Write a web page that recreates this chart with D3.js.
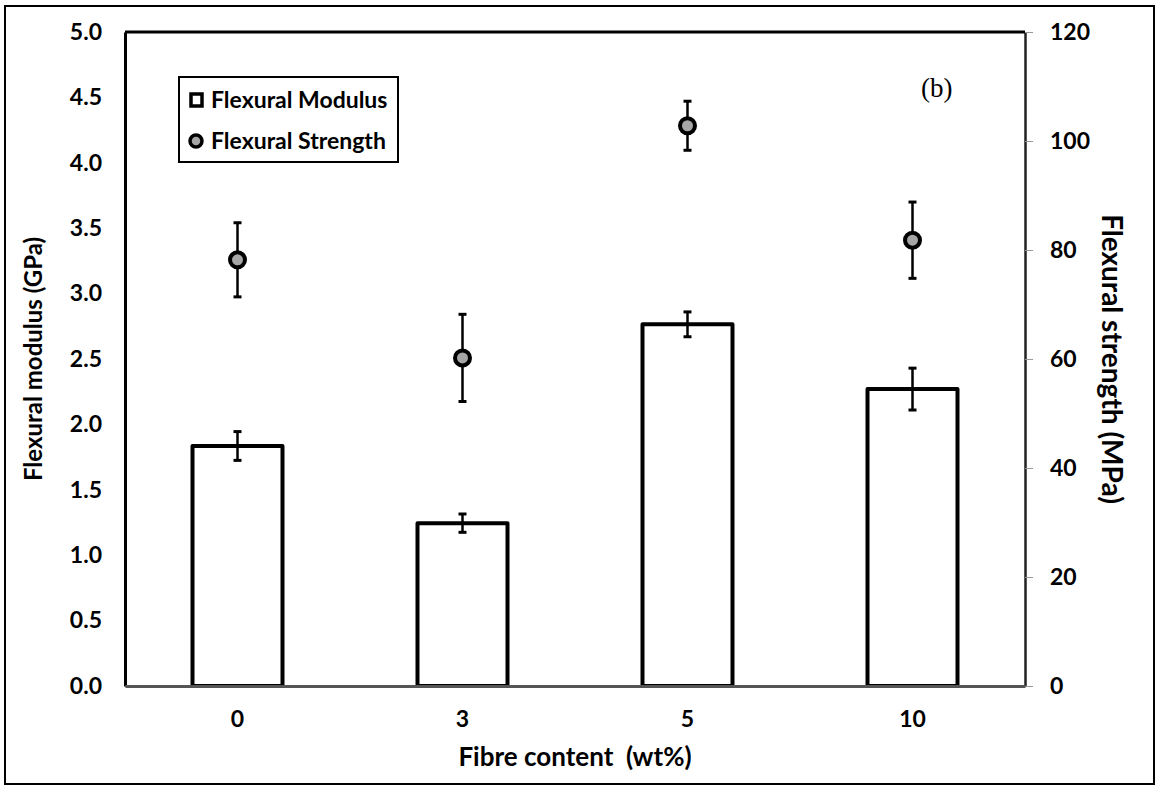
<!DOCTYPE html>
<html>
<head>
<meta charset="utf-8">
<script src="https://cdn.jsdelivr.net/npm/d3@7/dist/d3.min.js"></script>
<style>
  body { margin: 0; background: #fff; }
  text { font-family: Lato, "Open Sans", sans-serif; font-weight: bold; }
</style>
</head>
<body>
<svg id="chart" width="1157" height="787"></svg>
<script>
// fibre content categories
var categories = ["0", "3", "5", "10"];
// flexural modulus (GPa) and its error
var modulus = [1.835, 1.245, 2.765, 2.27];
var modulusErr = [0.11, 0.07, 0.095, 0.16];
// flexural strength (MPa) and its error
var strength = [78.2, 60.2, 102.8, 81.8];
var strengthErr = [6.8, 8.0, 4.5, 7.0];
var leftTicks = [0, 0.5, 1, 1.5, 2, 2.5, 3, 3.5, 4, 4.5, 5];
var rightTicks = [0, 20, 40, 60, 80, 100, 120];

var svg = d3.select("#chart");
var plot = { left: 125, top: 32, right: 1025, bottom: 686 };

// outer frame
svg.append("rect")
  .attr("x", 5).attr("y", 6).attr("width", 1149).attr("height", 778)
  .attr("fill", "none").attr("stroke", "#000").attr("stroke-width", 2);

var x = d3.scaleBand().domain(categories).range([plot.left, plot.right]).paddingInner(0.6).paddingOuter(0.3);
var yL = d3.scaleLinear().domain([0, 5]).range([plot.bottom, plot.top]);
var yR = d3.scaleLinear().domain([0, 120]).range([plot.bottom, plot.top]);

// left axis
var leftAxis = svg.append("g")
  .attr("transform", "translate(" + plot.left + ",0)")
  .call(d3.axisLeft(yL).tickValues(leftTicks).tickSize(0).tickPadding(23).tickFormat(d3.format(".1f")));
leftAxis.select(".domain").attr("stroke", "#000").attr("stroke-width", 3);
leftAxis.selectAll("text").attr("font-size", 23).attr("fill", "#000");

// right axis
var rightAxis = svg.append("g")
  .attr("transform", "translate(" + plot.right + ",0)")
  .call(d3.axisRight(yR).tickValues(rightTicks).tickSize(8).tickSizeOuter(0).tickPadding(17));
rightAxis.select(".domain").attr("stroke", "#222").attr("stroke-width", 2.5);
rightAxis.selectAll(".tick line").attr("stroke", "#999").attr("stroke-width", 1);
rightAxis.selectAll("text").attr("font-size", 23).attr("fill", "#000");

// top border
svg.append("line")
  .attr("x1", plot.left).attr("x2", plot.right)
  .attr("y1", plot.top).attr("y2", plot.top)
  .attr("stroke", "#000").attr("stroke-width", 3);

// bars
svg.append("g").selectAll("rect")
  .data(modulus)
  .join("rect")
  .attr("x", function(d, i) { return x(categories[i]); })
  .attr("y", function(d) { return yL(d); })
  .attr("width", x.bandwidth())
  .attr("height", function(d) { return plot.bottom - yL(d); })
  .attr("fill", "#fff")
  .attr("stroke", "#000")
  .attr("stroke-width", 4)
  .attr("stroke-linejoin", "round");

// bottom axis
var bottomAxis = svg.append("g")
  .attr("transform", "translate(0," + plot.bottom + ")")
  .call(d3.axisBottom(x).tickSize(0).tickPadding(25));
bottomAxis.select(".domain").attr("stroke", "#555").attr("stroke-width", 3);
bottomAxis.selectAll("text").attr("font-size", 23).attr("fill", "#000");

function errorBars(vals, errs, scale, cls) {
  var g = svg.append("g").attr("class", cls);
  vals.forEach(function(v, i) {
    var cx = x(categories[i]) + x.bandwidth() / 2;
    var y0 = scale(v - errs[i]), y1 = scale(v + errs[i]);
    g.append("line").attr("x1", cx).attr("x2", cx).attr("y1", y0).attr("y2", y1)
      .attr("stroke", "#000").attr("stroke-width", 2.5);
    [y0, y1].forEach(function(yy) {
      g.append("line").attr("x1", cx - 4).attr("x2", cx + 4).attr("y1", yy).attr("y2", yy)
        .attr("stroke", "#000").attr("stroke-width", 3);
    });
  });
}

errorBars(modulus, modulusErr, yL, "mod-err");
errorBars(strength, strengthErr, yR, "str-err");

// strength points
svg.append("g").selectAll("circle")
  .data(strength)
  .join("circle")
  .attr("cx", function(d, i) { return x(categories[i]) + x.bandwidth() / 2; })
  .attr("cy", function(d) { return yR(d); })
  .attr("r", 7.5)
  .attr("fill", "#a6a6a6")
  .attr("stroke", "#000")
  .attr("stroke-width", 4);

// legend
var legend = svg.append("g");
legend.append("rect")
  .attr("x", 179).attr("y", 77).attr("width", 219).attr("height", 85)
  .attr("fill", "#fff").attr("stroke", "#000").attr("stroke-width", 2);
legend.append("rect")
  .attr("x", 191).attr("y", 94).attr("width", 11).attr("height", 12)
  .attr("fill", "#fff").attr("stroke", "#000").attr("stroke-width", 3.5);
legend.append("circle")
  .attr("cx", 196).attr("cy", 141).attr("r", 6)
  .attr("fill", "#a6a6a6").attr("stroke", "#000").attr("stroke-width", 3.5);
legend.append("text").attr("x", 211).attr("y", 108).attr("font-size", 23).text("Flexural Modulus");
legend.append("text").attr("x", 211).attr("y", 149).attr("font-size", 23).text("Flexural Strength");

// panel label
svg.append("text")
  .attr("x", 921).attr("y", 97)
  .style("font-family", "'Liberation Serif', 'Times New Roman', serif")
  .style("font-weight", "normal")
  .attr("font-size", 27)
  .text("(b)");

// axis titles
svg.append("text")
  .attr("transform", "translate(42," + ((plot.top + plot.bottom) / 2) + ") rotate(-90)")
  .attr("text-anchor", "middle").attr("font-size", 24)
  .text("Flexural modulus (GPa)");
svg.append("text")
  .attr("transform", "translate(1102," + ((plot.top + plot.bottom) / 2) + ") rotate(90)")
  .attr("text-anchor", "middle").attr("font-size", 28)
  .text("Flexural strength (MPa)");
svg.append("text")
  .attr("x", (plot.left + plot.right) / 2).attr("y", 766)
  .attr("text-anchor", "middle").attr("font-size", 26)
  .attr("xml:space", "preserve")
  .text("Fibre content  (wt%)");
</script>
</body>
</html>
